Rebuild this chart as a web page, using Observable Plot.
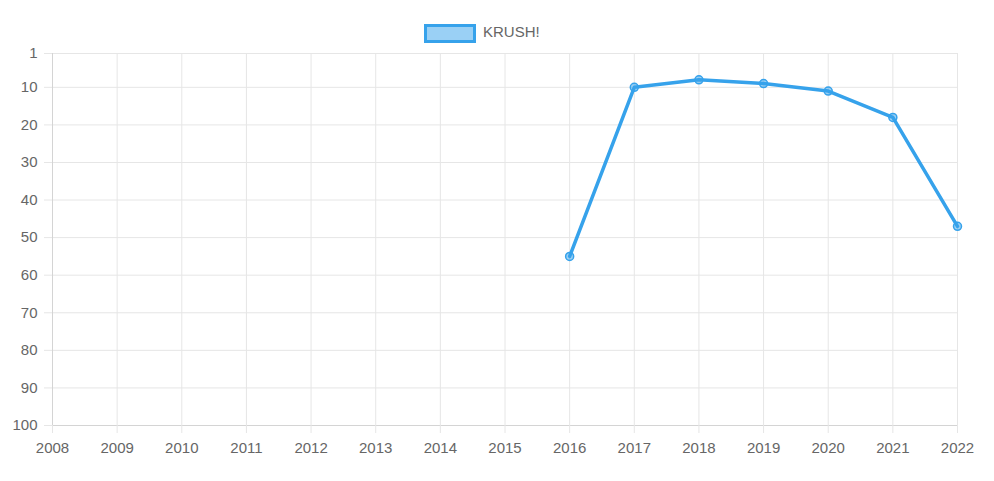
<!DOCTYPE html>
<html><head><meta charset="utf-8">
<script src="https://cdn.jsdelivr.net/npm/d3@7"></script>
<script src="https://cdn.jsdelivr.net/npm/@observablehq/plot@0.6"></script>
<style>
body{margin:0;background:#fff;font-family:"Liberation Sans",Arial,Helvetica,sans-serif;}
#legend{height:45px;position:relative;}
#legend .box{position:absolute;left:424px;top:24px;width:46px;height:13px;border:3px solid #36a2eb;background:rgba(54,162,235,0.5);}
#legend .lab{position:absolute;left:483px;top:23px;font-size:15px;color:#666;line-height:18px;}
</style></head>
<body>
<div id="legend"><div class="box"></div><div class="lab">KRUSH!</div></div>
<div id="chart"></div>
<script>
const seriesName = "KRUSH!";
const years = [2016, 2017, 2018, 2019, 2020, 2021, 2022];
const ranks = [55, 10, 8, 9, 11, 18, 47];
const xTicks = [2008,2009,2010,2011,2012,2013,2014,2015,2016,2017,2018,2019,2020,2021,2022];
const yTicks = [1,10,20,30,40,50,60,70,80,90,100];

const data = years.map((y,i)=>({year:y, rank:ranks[i]}));
const grid = "#e6e6e6";
const chart = Plot.plot({
  width: 994,
  height: 436,
  marginLeft: 52,
  marginRight: 37,
  marginTop: 8,
  marginBottom: 56,
  style: {fontFamily: '"Liberation Sans", Arial, sans-serif', fontSize: "15px", color: "#666", background: "#fff"},
  x: {domain: [2008, 2022], ticks: xTicks, tickFormat: d => String(d), label: null},
  y: {domain: [1, 100], reverse: true, ticks: yTicks, label: null},
  marks: [
    Plot.ruleX(xTicks, {stroke: grid, strokeWidth: 1}),
    Plot.ruleY(yTicks, {stroke: grid, strokeWidth: 1}),
    Plot.ruleX([2008], {stroke: "#d4d4d4"}),
    Plot.ruleY([100], {stroke: "#d4d4d4"}),
    Plot.axisX({ticks: xTicks, tickFormat: d => String(d), tickSize: 8, tickPadding: 9, stroke: grid, color: "#666", fontSize: 15}),
    Plot.axisY({ticks: yTicks, tickSize: 8, tickPadding: 7, stroke: grid, color: "#666", fontSize: 15}),
    Plot.line(data, {x: "year", y: "rank", stroke: "#36a2eb", strokeWidth: 3.5, strokeLinejoin: "round"}),
    Plot.dot(data, {x: "year", y: "rank", r: 4, fill: "rgba(54,162,235,0.5)", stroke: "#36a2eb", strokeWidth: 1.5})
  ]
});
document.getElementById("chart").appendChild(chart);
</script>
</body></html>
